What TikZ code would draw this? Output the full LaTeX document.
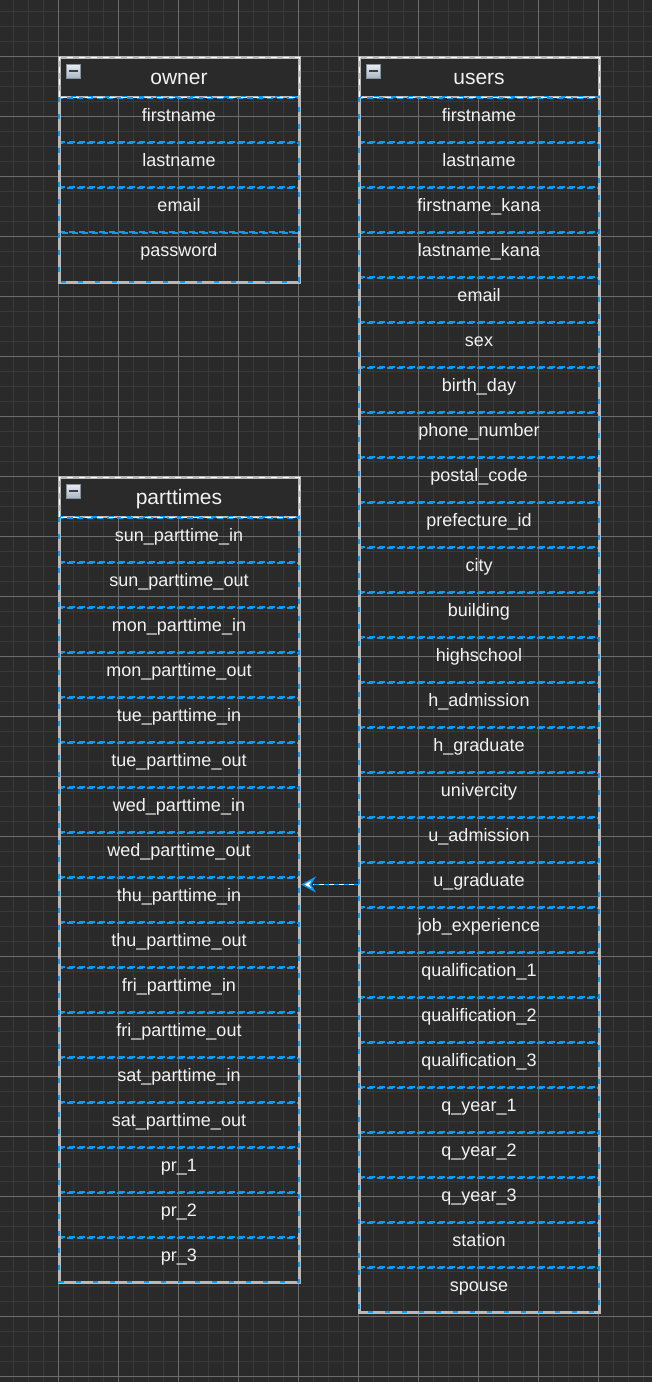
\documentclass[tikz,border=0pt]{standalone}
\usepackage{fontspec}
\setmainfont{Liberation Sans}
\usetikzlibrary{arrows.meta}
\definecolor{bgdark}{HTML}{2A2A2A}
\definecolor{gridminor}{HTML}{393939}
\definecolor{gridmajor}{HTML}{6C6C6C}
\definecolor{selblue}{HTML}{0A9BF5}
\definecolor{boxgray}{HTML}{B8B8B8}
\definecolor{textwhite}{HTML}{F2F2F2}
\definecolor{iconlight}{HTML}{E8EEF4}
\definecolor{icondark}{HTML}{A9B6C4}
\tikzset{
	tableframe/.style={draw=boxgray,line width=3pt,minimum width=240pt,inner sep=0,outer sep=0},
	framedash/.style={draw=white,line width=1pt,dash pattern=on 6pt off 6pt},
	frameblue/.style={draw=selblue,line width=2pt,dash pattern=on 5pt off 12pt},
	tablehead/.style={fill=bgdark,draw=boxgray,line width=2pt,text=textwhite,minimum width=240pt,minimum height=40pt,inner sep=0,outer sep=0,text height=14pt,text depth=0pt,font=\fontsize{21}{24}\selectfont},
	tablerow/.style={draw=selblue,line width=2pt,dash pattern=on 6pt off 4pt,text=textwhite,minimum width=240pt,minimum height=44pt,inner sep=0,outer sep=0,text height=13pt,text depth=9pt,font=\fontsize{18}{21}\selectfont},
	collapseicon/.style={draw=icondark!80!black,line width=0.8pt,top color=iconlight,bottom color=icondark,minimum size=14pt,inner sep=0,
		path picture={\fill[black!75] ([xshift=-4.5pt,yshift=-1pt]path picture bounding box.center) rectangle +(9pt,2pt);}},
	linkline/.style={draw=white,line width=1.5pt},
	linkdash/.style={draw=selblue,line width=1.5pt,dash pattern=on 5pt off 5pt,-{Stealth[length=15pt,width=16pt,inset=5pt,fill=white]}}
}
\begin{document}
\begin{tikzpicture}[x=1pt,y=-1pt]
	\fill[bgdark] (0,0) rectangle (652,1382);
	\useasboundingbox (0,0) rectangle (652,1382);
	\begin{scope}
		\clip (0,0) rectangle (652,1382);
		\draw[gridminor,line width=1pt,step=15pt,shift={(13,11)}] (-15,-15) grid (645,1380);
		\draw[gridmajor,line width=1pt,step=60pt,shift={(58,56)}] (-60,-60) grid (600,1330);
	\end{scope}

	\node[tablehead] (ownerhead) at (179,77) {owner};
	\node[collapseicon] (ownericon) at (73,71) {};
	\node[tablerow] (ofirstname) at (179,119.5) {firstname};
	\node[tablerow] (olastname) at (179,164.5) {lastname};
	\node[tablerow] (oemail) at (179,209.5) {email};
	\node[tablerow,minimum height=49pt,text depth=14pt] (opassword) at (179,257) {password};
	\node[tableframe,minimum height=225pt] (owner) at (179,169.5) {};
	\draw[frameblue] (ownerhead.south west) rectangle (owner.south east);
	\draw[framedash] (ownerhead.south west) rectangle (ownerhead.north east);

	\node[tablehead] (usershead) at (479,77) {users};
	\node[collapseicon] (usersicon) at (373,71) {};
	\node[tablerow] (ufirstname) at (479,119.5) {firstname};
	\node[tablerow] (ulastname) at (479,164.5) {lastname};
	\node[tablerow] (ufirstnamekana) at (479,209.5) {firstname\_kana};
	\node[tablerow] (ulastnamekana) at (479,254.5) {lastname\_kana};
	\node[tablerow] (uemail) at (479,299.5) {email};
	\node[tablerow] (usex) at (479,344.5) {sex};
	\node[tablerow] (ubirthday) at (479,389.5) {birth\_day};
	\node[tablerow] (uphone) at (479,434.5) {phone\_number};
	\node[tablerow] (upostal) at (479,479.5) {postal\_code};
	\node[tablerow] (uprefecture) at (479,524.5) {prefecture\_id};
	\node[tablerow] (ucity) at (479,569.5) {city};
	\node[tablerow] (ubuilding) at (479,614.5) {building};
	\node[tablerow] (uhighschool) at (479,659.5) {highschool};
	\node[tablerow] (uhadmission) at (479,704.5) {h\_admission};
	\node[tablerow] (uhgraduate) at (479,749.5) {h\_graduate};
	\node[tablerow] (uunivercity) at (479,794.5) {univercity};
	\node[tablerow] (uuadmission) at (479,839.5) {u\_admission};
	\node[tablerow] (uugraduate) at (479,884.5) {u\_graduate};
	\node[tablerow] (ujob) at (479,929.5) {job\_experience};
	\node[tablerow] (uqualone) at (479,974.5) {qualification\_1};
	\node[tablerow] (uqualtwo) at (479,1019.5) {qualification\_2};
	\node[tablerow] (uqualthree) at (479,1064.5) {qualification\_3};
	\node[tablerow] (uqyearone) at (479,1109.5) {q\_year\_1};
	\node[tablerow] (uqyeartwo) at (479,1154.5) {q\_year\_2};
	\node[tablerow] (uqyearthree) at (479,1199.5) {q\_year\_3};
	\node[tablerow] (ustation) at (479,1244.5) {station};
	\node[tablerow] (uspouse) at (479,1289.5) {spouse};
	\node[tableframe,minimum height=1255pt] (users) at (479,684.5) {};
	\draw[frameblue] (usershead.south west) rectangle (users.south east);
	\draw[framedash] (usershead.south west) rectangle (usershead.north east);

	\node[tablehead] (parttimeshead) at (179,497) {parttimes};
	\node[collapseicon] (parttimesicon) at (73,491) {};
	\node[tablerow] (psunin) at (179,539.5) {sun\_parttime\_in};
	\node[tablerow] (psunout) at (179,584.5) {sun\_parttime\_out};
	\node[tablerow] (pmonin) at (179,629.5) {mon\_parttime\_in};
	\node[tablerow] (pmonout) at (179,674.5) {mon\_parttime\_out};
	\node[tablerow] (ptuein) at (179,719.5) {tue\_parttime\_in};
	\node[tablerow] (ptueout) at (179,764.5) {tue\_parttime\_out};
	\node[tablerow] (pwedin) at (179,809.5) {wed\_parttime\_in};
	\node[tablerow] (pwedout) at (179,854.5) {wed\_parttime\_out};
	\node[tablerow] (pthuin) at (179,899.5) {thu\_parttime\_in};
	\node[tablerow] (pthuout) at (179,944.5) {thu\_parttime\_out};
	\node[tablerow] (pfriin) at (179,989.5) {fri\_parttime\_in};
	\node[tablerow] (pfriout) at (179,1034.5) {fri\_parttime\_out};
	\node[tablerow] (psatin) at (179,1079.5) {sat\_parttime\_in};
	\node[tablerow] (psatout) at (179,1124.5) {sat\_parttime\_out};
	\node[tablerow] (pprone) at (179,1169.5) {pr\_1};
	\node[tablerow] (pprtwo) at (179,1214.5) {pr\_2};
	\node[tablerow] (pprthree) at (179,1259.5) {pr\_3};
	\node[tableframe,minimum height=805pt] (parttimes) at (179,879.5) {};
	\draw[frameblue] (parttimeshead.south west) rectangle (parttimes.south east);
	\draw[framedash] (parttimeshead.south west) rectangle (parttimeshead.north east);

	\draw[linkline] (uugraduate.west) -- ([xshift=14pt]uugraduate.west -| parttimes.east);
	\draw[linkdash] (uugraduate.west) -- ([xshift=2pt]uugraduate.west -| parttimes.east);
\end{tikzpicture}
\end{document}
